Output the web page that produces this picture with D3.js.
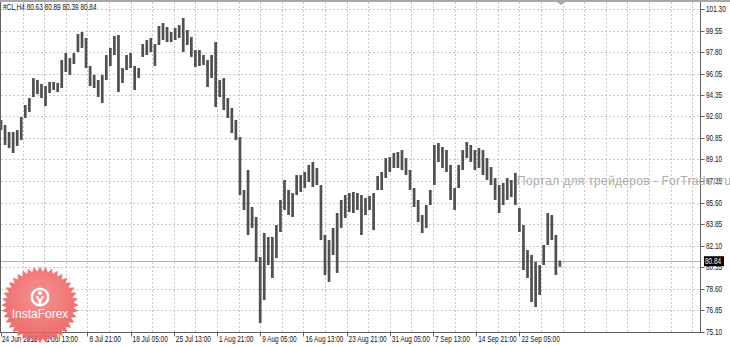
<!DOCTYPE html>
<html>
<head>
<meta charset="utf-8">
<script src="https://cdn.jsdelivr.net/npm/d3@7/dist/d3.min.js"></script>
<style>
  body { margin: 0; background: #fff; }
  text { font-family: "Liberation Sans", Arial, sans-serif; }
</style>
</head>
<body>
<script>
// #CL H4, one entry = 3 H4 bars (high / low)
var highs = [92.30, 91.89, 91.32, 91.32, 91.48, 92.54, 93.51, 94.08, 95.70, 95.54,
             95.22, 95.05, 95.38, 95.38, 95.30, 97.16, 97.73, 97.32, 97.73, 99.27,
             99.43, 98.95, 96.68, 95.95, 95.54, 95.95, 97.57, 98.14, 99.11, 99.19,
             96.51, 97.57, 97.73, 96.68, 96.51, 98.46, 98.78, 98.95, 98.46, 99.92,
             100.16, 99.84, 99.43, 99.76, 100.00, 100.57, 99.60, 99.03, 97.97, 97.97,
             97.57, 97.16, 97.57, 98.62, 95.54, 95.70, 94.08, 93.27, 92.30, 90.92,
             86.62, 88.24, 85.24, 84.43, 81.18, 83.13, 82.81, 82.81, 83.78, 85.81,
             87.43, 86.62, 86.37, 87.83, 87.83, 88.08, 88.65, 88.89, 88.40, 87.02,
             82.97, 82.56, 83.54, 84.75, 85.81, 86.21, 86.37, 86.46, 86.37, 86.21,
             85.97, 86.13, 86.37, 87.75, 88.08, 89.21, 89.29, 89.62, 89.70, 89.86,
             89.21, 88.24, 86.78, 85.81, 84.59, 85.40, 86.62, 90.27, 90.43, 90.11,
             89.86, 88.65, 86.78, 88.65, 89.86, 90.51, 90.27, 89.86, 90.02, 89.86,
             89.21, 88.48, 87.59, 87.02, 87.19, 87.59, 87.43, 88.00, 85.16, 83.78,
             81.75, 81.35, 80.78, 80.53, 82.16, 84.75, 84.59, 82.97, 80.89];

var lows  = [91.48, 90.27, 90.02, 89.62, 90.19, 90.67, 92.46, 92.94, 94.16, 94.40,
             94.08, 93.43, 94.49, 94.73, 94.57, 94.89, 96.19, 95.95, 96.84, 97.81,
             98.14, 96.51, 95.05, 94.89, 94.16, 93.67, 95.54, 96.68, 97.57, 94.57,
             95.30, 96.35, 96.51, 94.73, 95.70, 97.41, 97.57, 97.81, 96.68, 98.38,
             98.78, 98.62, 98.62, 98.78, 98.95, 97.81, 98.38, 97.41, 96.59, 96.68,
             96.76, 94.97, 95.70, 93.35, 94.16, 93.11, 92.46, 91.24, 90.67, 86.21,
             85.00, 82.97, 83.54, 80.78, 75.83, 77.70, 80.53, 79.48, 81.10, 83.21,
             85.00, 84.59, 84.43, 86.21, 86.46, 86.78, 87.27, 86.86, 87.02, 82.56,
             79.72, 79.16, 81.35, 79.89, 83.54, 84.35, 84.83, 84.75, 85.00, 82.97,
             84.59, 85.00, 83.37, 86.62, 86.62, 87.59, 88.08, 88.40, 88.40, 88.24,
             87.83, 86.62, 85.24, 84.02, 83.13, 83.54, 85.40, 87.02, 88.89, 88.40,
             88.08, 85.81, 85.00, 86.78, 88.24, 89.21, 88.89, 88.24, 88.40, 87.83,
             87.43, 87.02, 85.81, 84.75, 85.40, 85.81, 86.05, 85.40, 83.21, 80.13,
             79.48, 77.53, 77.13, 78.10, 80.53, 82.16, 82.56, 79.72, 80.39];

var lastBar = { open: 80.63, high: 80.89, low: 80.39, close: 80.84 };
var symbol = '#CL,H4';
var barsPerEntry = 3;

var priceTicks = [101.30, 99.55, 97.80, 96.05, 94.35, 92.60, 90.85, 89.10,
                  87.35, 85.60, 83.85, 82.10, 80.35, 78.60, 76.85, 75.10];

var dateLabels = ['24 Jun 2013', '1 Jul 13:00', '8 Jul 21:00', '18 Jul 05:00',
                  '25 Jul 13:00', '1 Aug 21:00', '9 Aug 05:00', '16 Aug 13:00',
                  '23 Aug 21:00', '31 Aug 05:00', '7 Sep 13:00', '14 Sep 21:00',
                  '22 Sep 05:00'];
var barsPerLabel = 32;

var WIDTH  = 730;
var HEIGHT = 346;
var RIGHT  = 700.5;
var BOTTOM = 332.5;
var SQUEEZE = 0.76;   // narrow terminal font

var svg = d3.select('body')
            .append('svg')
            .attr('width', WIDTH)
            .attr('height', HEIGHT);

var x = d3.scaleLinear()
          .domain([0, 512])
          .range([1, 692.2]);

var y = d3.scaleLinear()
          .domain([75.10, 101.30])
          .range([332, 9]);

function smallText(parent, px, py, str, fill) {
  return parent.append('text')
               .attr('transform', 'translate(' + px + ',' + py + ') scale(' + SQUEEZE + ',1)')
               .attr('font-size', '8.5px')
               .attr('fill', fill || '#111')
               .text(str);
}

// grid
svg.append('g')
   .selectAll('line')
   .data(d3.range(barsPerLabel / 2, 513, barsPerLabel / 2))
   .enter()
 .append('line')
   .attr('x1', function(d) { return Math.round(x(d)) + 0.5; })
   .attr('x2', function(d) { return Math.round(x(d)) + 0.5; })
   .attr('y1', 2)
   .attr('y2', BOTTOM)
   .attr('stroke', '#c8c8c8')
   .attr('stroke-dasharray', '2,2');

svg.append('g')
   .selectAll('line')
   .data(priceTicks.slice(0, -1))
   .enter()
 .append('line')
   .attr('x1', 1)
   .attr('x2', RIGHT)
   .attr('y1', function(d) { return Math.round(y(d)) + 0.5; })
   .attr('y2', function(d) { return Math.round(y(d)) + 0.5; })
   .attr('stroke', '#c8c8c8')
   .attr('stroke-dasharray', '2,2');

// bid line
svg.append('line')
   .attr('x1', 1)
   .attr('x2', RIGHT)
   .attr('y1', Math.round(y(lastBar.close)) + 0.5)
   .attr('y2', Math.round(y(lastBar.close)) + 0.5)
   .attr('stroke', '#b4b4b4');

// bars
svg.append('g')
   .selectAll('rect')
   .data(highs)
   .enter()
 .append('rect')
   .attr('x', function(d, i) { return x(i * barsPerEntry) - 1.35; })
   .attr('width', 2.7)
   .attr('y', function(d) { return y(d); })
   .attr('height', function(d, i) { return Math.max(1, y(lows[i]) - y(d)); })
   .attr('fill', '#505050');

// frame
svg.append('rect').attr('x', 0).attr('y', 0).attr('width', WIDTH).attr('height', 2).attr('fill', '#a8a8a8');
svg.append('line').attr('x1', 0.5).attr('x2', 0.5).attr('y1', 2).attr('y2', BOTTOM).attr('stroke', '#606060');
svg.append('line').attr('x1', 0).attr('x2', RIGHT).attr('y1', BOTTOM).attr('y2', BOTTOM).attr('stroke', '#606060');
svg.append('line').attr('x1', RIGHT).attr('x2', RIGHT).attr('y1', 2).attr('y2', BOTTOM).attr('stroke', '#606060');
svg.append('path')
   .attr('d', 'M557,2 L565,2 L561,5 Z')
   .attr('fill', '#a8a8a8');

// price axis
var yAxis = svg.append('g');
yAxis.selectAll('line')
     .data(priceTicks)
     .enter()
   .append('line')
     .attr('x1', RIGHT)
     .attr('x2', RIGHT + 4)
     .attr('y1', function(d) { return Math.round(y(d)) + 0.5; })
     .attr('y2', function(d) { return Math.round(y(d)) + 0.5; })
     .attr('stroke', '#606060');
priceTicks.forEach(function(d) {
  smallText(yAxis, 706, y(d) + 3, d.toFixed(2));
});

// watermark
svg.append('text')
   .attr('x', 517).attr('y', 185)
   .attr('font-size', '12px')
   .attr('letter-spacing', '0.3px')
   .attr('fill', '#ababab')
   .text('Портал для трейдеров - ForTrader.ru');

// current price box
var bidY = y(lastBar.close);
svg.append('rect')
   .attr('x', 704).attr('y', bidY - 5)
   .attr('width', 20).attr('height', 10)
   .attr('fill', '#000');
smallText(svg, 705, bidY + 3, lastBar.close.toFixed(2), '#fff');

// time axis
var xAxis = svg.append('g');
xAxis.selectAll('line')
     .data(dateLabels)
     .enter()
   .append('line')
     .attr('x1', function(d, i) { return Math.round(x(i * barsPerLabel)) + 0.5; })
     .attr('x2', function(d, i) { return Math.round(x(i * barsPerLabel)) + 0.5; })
     .attr('y1', BOTTOM)
     .attr('y2', BOTTOM + 4)
     .attr('stroke', '#606060');
dateLabels.forEach(function(d, i) {
  smallText(xAxis, i === 0 ? 2 : x(i * barsPerLabel) + 2, 342, d);
});

// header
smallText(svg, 3, 10, symbol + ' ' + [lastBar.open, lastBar.high, lastBar.low, lastBar.close]
          .map(function(v) { return v.toFixed(2); }).join(' '));

// InstaForex badge
var grad = svg.append('defs').append('radialGradient')
              .attr('id', 'badge').attr('cx', '50%').attr('cy', '40%').attr('r', '60%');
grad.append('stop').attr('offset', '0%').attr('stop-color', '#f58886');
grad.append('stop').attr('offset', '100%').attr('stop-color', '#ea5a58');

var cx = 40, cy = 305, spikes = 40;
var starPts = d3.range(spikes * 2).map(function(k) {
  var a = Math.PI * k / spikes - Math.PI / 2;
  var r = k % 2 === 0 ? 38.5 : 33.5;
  return [cx + r * Math.cos(a), cy + r * Math.sin(a)];
});
var badge = svg.append('g').attr('opacity', 0.9);
badge.append('path')
     .attr('d', d3.line()(starPts) + 'Z')
     .attr('fill', 'url(#badge)');
badge.append('path')
     .attr('d', d3.arc()({ innerRadius: 7, outerRadius: 9.5,
                           startAngle: 0.75 * Math.PI, endAngle: 3.25 * Math.PI }))
     .attr('transform', 'translate(' + cx + ',' + (cy - 8) + ')')
     .attr('fill', '#fff');
badge.append('circle').attr('cx', cx).attr('cy', cy - 12).attr('r', 2).attr('fill', '#fff');
badge.append('path')
     .attr('d', 'M' + (cx - 4) + ',' + (cy - 9) + ' L' + (cx - 1.2) + ',' + (cy - 3) +
                ' L' + (cx - 1.2) + ',' + (cy + 1) + ' L' + (cx + 1.2) + ',' + (cy + 1) +
                ' L' + (cx + 1.2) + ',' + (cy - 3) + ' L' + (cx + 4) + ',' + (cy - 9) +
                ' L' + (cx + 2) + ',' + (cy - 9) + ' L' + cx + ',' + (cy - 5) +
                ' L' + (cx - 2) + ',' + (cy - 9) + ' Z')
     .attr('fill', '#fff');
badge.append('text')
     .attr('x', cx).attr('y', cy + 13)
     .attr('text-anchor', 'middle')
     .attr('font-family', '"Open Sans", "Liberation Sans", sans-serif')
     .attr('font-size', '12px')
     .attr('fill', '#fff')
     .text('InstaForex');
</script>
</body>
</html>
